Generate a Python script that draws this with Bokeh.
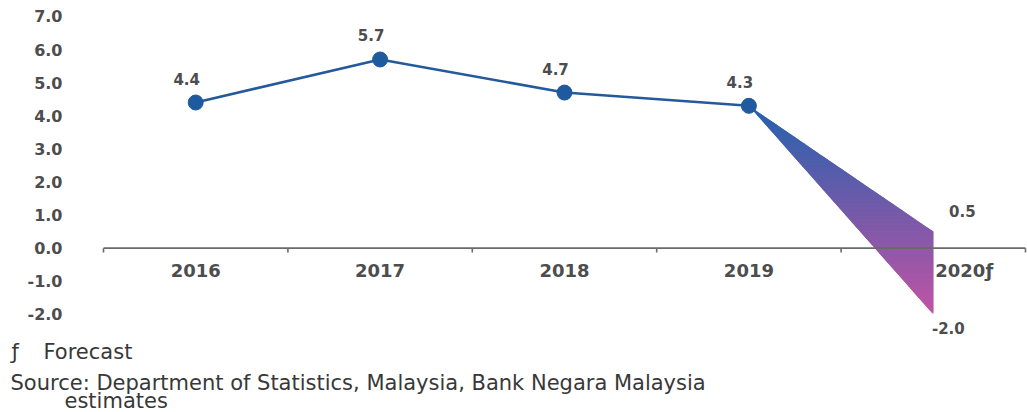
import numpy as np
from bokeh.plotting import figure
from bokeh.models import Range1d
from bokeh.core.properties import value
from bokeh.embed import file_html
from bokeh.resources import INLINE

# ---- data ----
years = ["2016", "2017", "2018", "2019", "2020ƒ"]
growth = [4.4, 5.7, 4.7, 4.3]          # actual 2016-2019
forecast_high = 0.5                      # 2020 forecast range
forecast_low = -2.0
y_ticks = [-2, -1, 0, 1, 2, 3, 4, 5, 6, 7]
foot_mark = "ƒ"
foot_text = "Forecast"
source_1 = "Source: Department of Statistics, Malaysia, Bank Negara Malaysia"
source_2 = "estimates"

FONT = "DejaVu Sans"
TXT = "#4d4d4d"

n = len(years)
s = 922 / n                       # px per category
x0 = -0.5 - 103 / s
x1 = n - 0.5 + 2 / s

p = figure(width=1027, height=412, output_backend="svg", toolbar_location=None,
           x_range=Range1d(x0, x1), y_range=Range1d(-4.965, 7.24),
           x_axis_location=None, y_axis_location=None,
           min_border_left=0, min_border_right=0, min_border_top=8, min_border_bottom=0)
p.outline_line_color = None
p.grid.visible = False
p.background_fill_color = "white"

# ---- y tick labels ----
p.text(x=[x0] * len(y_ticks), y=y_ticks, text=["%.1f" % t for t in y_ticks], x_offset=62,
       text_align="right", text_baseline="middle", text_font=value(FONT),
       text_font_style="bold", text_font_size="16px", text_color=TXT)

# ---- gradient forecast wedge ----
A = (3.0, growth[-1]); B = (4.0, forecast_high); C = (4.0, forecast_low)
tri = [A, B, C]

def clip(poly, yc, keep_above):
    out = []
    m = len(poly)
    for i in range(m):
        P = poly[i]; Q = poly[(i + 1) % m]
        inP = P[1] >= yc if keep_above else P[1] <= yc
        inQ = Q[1] >= yc if keep_above else Q[1] <= yc
        if inP:
            out.append(P)
        if inP != inQ:
            t = (yc - P[1]) / (Q[1] - P[1])
            out.append((P[0] + t * (Q[0] - P[0]), yc))
    return out

c_top = np.array([36, 98, 174])
c_bot = np.array([194, 84, 166])
nb = 120
edges = np.linspace(forecast_low, growth[-1], nb + 1)
step = edges[1] - edges[0]
bxs, bys, cols = [], [], []
for i in range(nb):
    top = min(edges[i + 1] + 1.2 * step, growth[-1])
    poly = clip(clip(tri, edges[i], True), top, False)
    if len(poly) < 3:
        continue
    t = (0.5 * (edges[i] + edges[i + 1]) - forecast_low) / (growth[-1] - forecast_low)
    c = (c_bot + (c_top - c_bot) * t).astype(int)
    cols.append("#%02x%02x%02x" % tuple(c))
    bxs.append([q[0] for q in poly]); bys.append([q[1] for q in poly])
p.patches(bxs, bys, fill_color=cols, line_color=None)

# ---- custom x axis at y=0 ----
xs_idx = list(range(n))
bounds = [i - 0.5 for i in range(n + 1)]
p.segment(x0=[bounds[0]], y0=[0], x1=[bounds[-1]], y1=[0], line_color="#6a6a6a", line_width=1.6)
p.segment(x0=bounds, y0=[0] * len(bounds), x1=bounds, y1=[-0.13] * len(bounds),
          line_color="#6a6a6a", line_width=1.6)
p.text(x=xs_idx[:-1], y=[-0.68] * (n - 1), text=years[:-1], text_align="center",
       text_baseline="middle", text_font=value(FONT), text_font_style="bold",
       text_font_size="18px", text_color=TXT)
p.text(x=xs_idx[-1:], y=[-0.68], text=years[-1:], x_offset=2, text_align="left",
       text_baseline="middle", text_font=value(FONT), text_font_style="bold",
       text_font_size="18px", text_color=TXT)

# ---- actual line ----
p.line(xs_idx[:4], growth, line_color="#245a9c", line_width=2.6)
p.scatter(xs_idx[:4], growth, size=15, fill_color="#1f5a9e", line_color="#1f5a9e")

labels = ["%.1f" % v for v in growth]
p.text(x=xs_idx[:4], y=growth, text=labels, x_offset=-9, y_offset=-24,
       text_align="center", text_baseline="middle", text_font=value(FONT),
       text_font_style="bold", text_font_size="15px", text_color=TXT)
p.text(x=[4], y=[forecast_high], text=["%.1f" % forecast_high], x_offset=29, y_offset=-21,
       text_align="center", text_baseline="middle", text_font=value(FONT),
       text_font_style="bold", text_font_size="15px", text_color=TXT)
p.text(x=[4], y=[forecast_low], text=["%.1f" % forecast_low], x_offset=15, y_offset=14,
       text_align="center", text_baseline="middle", text_font=value(FONT),
       text_font_style="bold", text_font_size="15px", text_color=TXT)

# ---- footer (positioned from frame left edge) ----
p.text(x=[x0] * 4, y=[-3.15, -3.15, -4.08, -4.63],
       text=[foot_mark, foot_text, source_1, source_2],
       x_offset=[11, 43, 10, 64], text_align="left", text_baseline="middle",
       text_font=value(FONT), text_font_size="21px", text_color="#383838")

open("out.html", "w").write(file_html(p, INLINE))
